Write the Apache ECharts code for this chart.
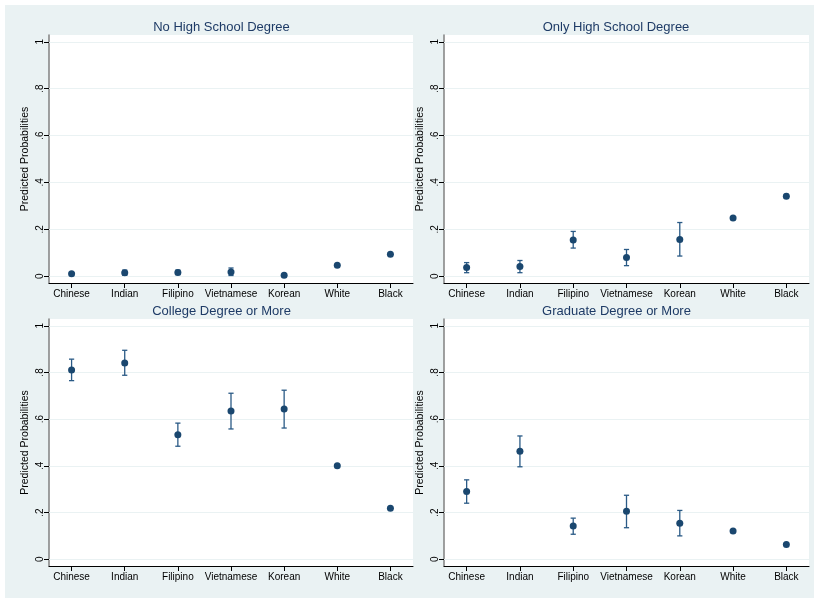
<!DOCTYPE html>
<html>
<head>
<meta charset="utf-8">
<script src="https://cdn.jsdelivr.net/npm/echarts@6/dist/echarts.min.js"></script>
<style>
  html, body { margin: 0; padding: 0; background: #ffffff; }
  #chart { position: absolute; left: 5px; top: 5px; width: 809px; height: 593px; }
</style>
</head>
<body>
<div id="chart"></div>
<script>
// ---- data ----
const categories = ['Chinese', 'Indian', 'Filipino', 'Vietnamese', 'Korean', 'White', 'Black'];
const panelTitles = ['No High School Degree', 'Only High School Degree', 'College Degree or More', 'Graduate Degree or More'];
const yTickValues = [0, 0.2, 0.4, 0.6, 0.8, 1];
const yTickLabels = ['0', '.2', '.4', '.6', '.8', '1'];
const yAxisTitle = 'Predicted Probabilities';

const noHS      = [0.010, 0.015, 0.016, 0.018, 0.004, 0.047, 0.094];
const noHSLow   = [0.005, 0.004, 0.007, 0.003, 0.001, 0.044, 0.090];
const noHSHigh  = [0.015, 0.026, 0.026, 0.035, 0.008, 0.050, 0.098];

const onlyHS     = [0.037, 0.041, 0.154, 0.080, 0.157, 0.248, 0.341];
const onlyHSLow  = [0.015, 0.015, 0.120, 0.045, 0.086, 0.245, 0.333];
const onlyHSHigh = [0.058, 0.067, 0.191, 0.114, 0.229, 0.251, 0.349];

const college     = [0.811, 0.841, 0.533, 0.635, 0.643, 0.400, 0.218];
const collegeLow  = [0.765, 0.788, 0.484, 0.558, 0.562, 0.396, 0.214];
const collegeHigh = [0.857, 0.895, 0.583, 0.711, 0.724, 0.404, 0.222];

const grad     = [0.290, 0.462, 0.142, 0.205, 0.154, 0.121, 0.063];
const gradLow  = [0.240, 0.396, 0.107, 0.135, 0.100, 0.118, 0.060];
const gradHigh = [0.340, 0.528, 0.176, 0.274, 0.209, 0.124, 0.066];

const panels = [
  { est: noHS, lo: noHSLow, hi: noHSHigh },
  { est: onlyHS, lo: onlyHSLow, hi: onlyHSHigh },
  { est: college, lo: collegeLow, hi: collegeHigh },
  { est: grad, lo: gradLow, hi: gradHigh }
];

// ---- layout / style ----
const NAVY = '#1A476F';
const BG = '#EAF2F3';
const grids = [
  { left: 44, top: 30, width: 364, height: 248 },
  { left: 439, top: 30, width: 365, height: 248 },
  { left: 44, top: 314, width: 364, height: 247 },
  { left: 439, top: 314, width: 365, height: 247 }
];
const titlePos = [
  { x: 211.5, y: 11 },
  { x: 606, y: 11 },
  { x: 211.5, y: 295 },
  { x: 606.5, y: 295 }
];
const catIdx = categories.map((c, i) => i + 1);
const FONT = 'Liberation Sans, Arial, Helvetica, sans-serif';

const option = {
  backgroundColor: BG,
  animation: false,
  title: panelTitles.map((t, i) => ({
    text: t,
    left: titlePos[i].x,
    top: titlePos[i].y,
    textAlign: 'center',
    textStyle: { fontSize: 13, fontWeight: 'normal', color: '#1E3B66', fontFamily: FONT }
  })),
  grid: grids.map(g => Object.assign({
    show: true, backgroundColor: '#ffffff', borderWidth: 0, containLabel: false
  }, g)),
  xAxis: grids.map((g, i) => ({
    type: 'value',
    gridIndex: i,
    min: 0.575,
    max: 7.425,
    axisLine: { show: true, onZero: false, lineStyle: { color: '#000', width: 1 } },
    axisTick: { show: true, length: 5, customValues: catIdx, lineStyle: { color: '#000', width: 1 } },
    axisLabel: {
      customValues: catIdx,
      margin: 6,
      fontSize: 10,
      color: '#000',
      fontFamily: FONT,
      formatter: v => categories[Math.round(v) - 1] || ''
    },
    splitLine: { show: false }
  })),
  yAxis: grids.map((g, i) => ({
    type: 'value',
    gridIndex: i,
    min: -0.029,
    max: 1.029,
    name: yAxisTitle,
    nameLocation: 'middle',
    nameGap: 18,
    nameTextStyle: { fontSize: 10.5, color: '#000', fontFamily: FONT },
    axisLine: { show: true, onZero: false, lineStyle: { color: '#808080', width: 1.5 } },
    axisTick: { show: true, length: 5, customValues: yTickValues, lineStyle: { color: '#000', width: 1 } },
    axisLabel: {
      customValues: yTickValues,
      rotate: 90,
      margin: 4,
      fontSize: 10,
      color: '#000',
      fontFamily: FONT,
      formatter: v => {
        const k = yTickValues.findIndex(t => Math.abs(t - v) < 1e-6);
        return k >= 0 ? yTickLabels[k] : '';
      }
    },
    splitLine: { show: false }
  })),
  series: []
};

panels.forEach((p, i) => {
  // grid lines
  option.series.push({
    type: 'line',
    xAxisIndex: i, yAxisIndex: i,
    data: [],
    silent: true,
    z: 1,
    markLine: {
      silent: true,
      z: 1,
      symbol: 'none',
      label: { show: false },
      lineStyle: { color: BG, width: 1, type: 'solid' },
      data: yTickValues.map(v => ({ yAxis: v }))
    }
  });
  // error bars
  option.series.push({
    type: 'custom',
    xAxisIndex: i, yAxisIndex: i,
    z: 3,
    silent: true,
    data: catIdx.map((x, k) => [x, p.lo[k], p.hi[k]]),
    encode: { x: 0, y: [1, 2] },
    renderItem: (params, api) => {
      const x = api.value(0);
      const a = api.coord([x, api.value(1)]);
      const b = api.coord([x, api.value(2)]);
      const w = 2.6;
      const st = { stroke: '#2A5A86', lineWidth: 1.3 };
      return {
        type: 'group',
        children: [
          { type: 'line', shape: { x1: a[0], y1: a[1], x2: b[0], y2: b[1] }, style: st },
          { type: 'line', shape: { x1: a[0] - w, y1: a[1], x2: a[0] + w, y2: a[1] }, style: st },
          { type: 'line', shape: { x1: b[0] - w, y1: b[1], x2: b[0] + w, y2: b[1] }, style: st }
        ]
      };
    }
  });
  // point estimates
  option.series.push({
    type: 'scatter',
    xAxisIndex: i, yAxisIndex: i,
    z: 4,
    symbol: 'circle',
    symbolSize: 7,
    itemStyle: { color: NAVY, opacity: 1 },
    data: catIdx.map((x, k) => [x, p.est[k]])
  });
});

const chart = echarts.init(document.getElementById('chart'), null, { renderer: 'canvas' });
chart.setOption(option);
</script>
</body>
</html>
